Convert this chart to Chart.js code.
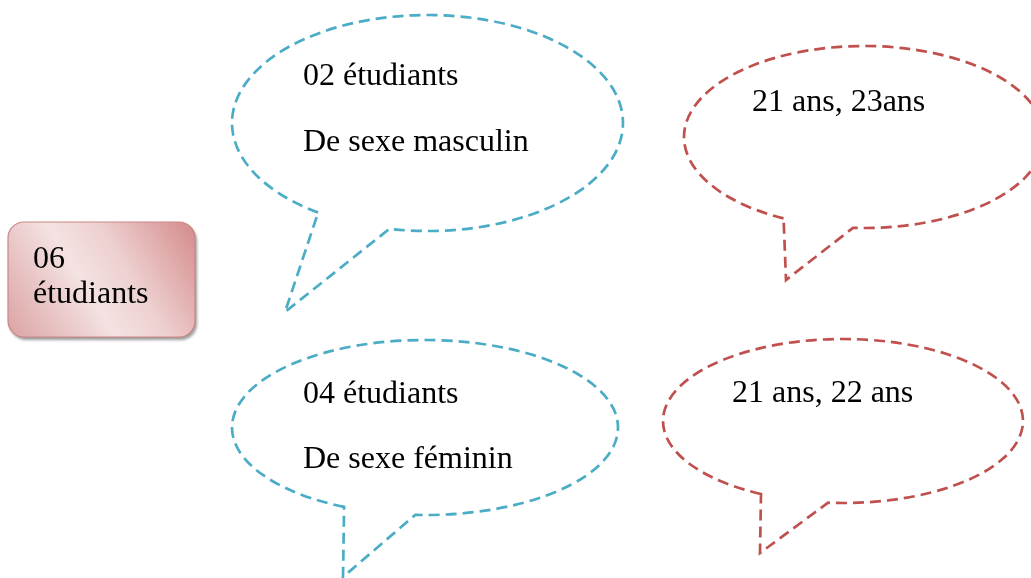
<!DOCTYPE html>
<html lang="fr">
<head>
    <meta charset="UTF-8">
    <title>06 étudiants</title>
    <script src="https://cdn.jsdelivr.net/npm/chart.js"></script>
    <style>
        html, body { margin: 0; padding: 0; background: #ffffff; }
        #wrap { position: relative; width: 1031px; height: 578px; }
    </style>
</head>
<body>
    <div id="wrap"><canvas id="diagram"></canvas></div>

    <script>
        // --- TEXT ---
        const boxLines = ['06', 'étudiants'];
        const bubbleLines = [
            ['02 étudiants', 'De sexe masculin'],
            ['21 ans, 23ans'],
            ['04 étudiants', 'De sexe féminin'],
            ['21 ans, 22 ans']
        ];

        // --- LAYOUT (axis units = page pixels, y grows downward) ---
        const bubbleColors = ['#4bacc6', '#c0504d', '#4bacc6', '#c0504d'];
        const bubbleCenters = [[427.5, 123], [864, 137], [425, 427.5], [843, 421]];
        const bubbleRadii = [[195.5, 108], [180, 91], [193, 87.5], [180, 82]];
        // tail: left junction, tip, right junction
        const bubbleTails = [
            [[320, 211], [285, 312], [390, 227]],
            [[783, 219], [786, 280], [853, 228]],
            [[343, 508], [343, 577], [415, 517]],
            [[761, 494], [760, 553], [828, 503]]
        ];
        const textAnchors = [[[303, 85], [303, 151]], [[752, 111]], [[303, 403], [303, 468]], [[732, 402]]];
        const boxRect = [8, 222, 195, 337];
        const boxTextAnchors = [[33, 268], [33, 303]];

        const FONT = '32px "Liberation Serif", "Times New Roman", serif';

        const diagramPlugin = {
            id: 'diagram',
            afterDatasetsDraw(chart) {
                const ctx = chart.ctx;
                const sx = chart.scales.x, sy = chart.scales.y;
                const px = v => sx.getPixelForValue(v);
                const py = v => sy.getPixelForValue(v);

                // box with gradient and shadow
                const [x0, y0, x1, y1] = boxRect.map((v, i) => i % 2 ? py(v) : px(v));
                const r = 16;
                const roundPath = () => {
                    ctx.beginPath();
                    ctx.moveTo(x0 + r, y0);
                    ctx.arcTo(x1, y0, x1, y1, r);
                    ctx.arcTo(x1, y1, x0, y1, r);
                    ctx.arcTo(x0, y1, x0, y0, r);
                    ctx.arcTo(x0, y0, x1, y0, r);
                    ctx.closePath();
                };
                ctx.save();
                ctx.shadowColor = 'rgba(90,90,90,0.6)';
                ctx.shadowOffsetX = 2;
                ctx.shadowOffsetY = 3;
                ctx.shadowBlur = 3;
                const g = ctx.createLinearGradient(x0, y1, x1, y0);
                g.addColorStop(0, '#dba2a2');
                g.addColorStop(0.42, '#f4e2e2');
                g.addColorStop(0.62, '#eed0d0');
                g.addColorStop(1, '#d48a8a');
                ctx.fillStyle = g;
                roundPath();
                ctx.fill();
                ctx.restore();
                ctx.save();
                ctx.strokeStyle = '#cc8585';
                ctx.lineWidth = 1.2;
                roundPath();
                ctx.stroke();
                ctx.restore();

                // speech bubbles
                bubbleCenters.forEach((c, i) => {
                    const cx = px(c[0]), cy = py(c[1]);
                    const rx = px(c[0] + bubbleRadii[i][0]) - cx;
                    const ry = py(c[1] + bubbleRadii[i][1]) - cy;
                    const [a, tip, b] = bubbleTails[i].map(p => [px(p[0]), py(p[1])]);
                    const angL = Math.atan2((a[1] - cy) / ry, (a[0] - cx) / rx);
                    let angR = Math.atan2((b[1] - cy) / ry, (b[0] - cx) / rx);
                    while (angR < angL) angR += Math.PI * 2;
                    ctx.save();
                    ctx.strokeStyle = bubbleColors[i];
                    ctx.lineWidth = 2.7;
                    ctx.setLineDash([11, 6]);
                    ctx.beginPath();
                    ctx.ellipse(cx, cy, rx, ry, 0, angL, angR);
                    ctx.lineTo(tip[0], tip[1]);
                    ctx.closePath();
                    ctx.stroke();
                    ctx.restore();
                });

                // text
                ctx.save();
                ctx.fillStyle = '#000000';
                ctx.font = FONT;
                ctx.textBaseline = 'alphabetic';
                ctx.textAlign = 'left';
                boxLines.forEach((t, i) => ctx.fillText(t, px(boxTextAnchors[i][0]), py(boxTextAnchors[i][1])));
                bubbleLines.forEach((lines, i) => {
                    lines.forEach((t, j) => ctx.fillText(t, px(textAnchors[i][j][0]), py(textAnchors[i][j][1])));
                });
                ctx.restore();
            }
        };

        new Chart(document.getElementById('diagram'), {
            type: 'scatter',
            data: {
                datasets: [{
                    label: 'centres',
                    data: bubbleCenters.map(c => ({ x: c[0], y: c[1] })),
                    pointRadius: 0
                }]
            },
            options: {
                responsive: true,
                maintainAspectRatio: false,
                animation: false,
                layout: { padding: 0 },
                scales: {
                    x: { type: 'linear', min: 0, max: 1031, display: false },
                    y: { type: 'linear', min: 0, max: 578, reverse: true, display: false }
                },
                plugins: { legend: { display: false }, tooltip: { enabled: false } }
            },
            plugins: [diagramPlugin]
        });
    </script>
</body>
</html>
